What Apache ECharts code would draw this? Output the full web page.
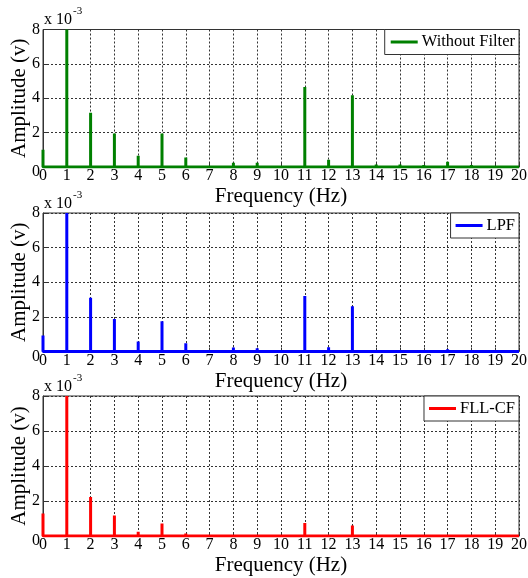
<!DOCTYPE html>
<html><head><meta charset="utf-8">
<script src="https://cdn.jsdelivr.net/npm/echarts@6/dist/echarts.min.js"></script>
<style>html,body{margin:0;padding:0;background:#fff}#c{width:528px;height:578px}</style>
</head><body><div id="c"></div>
<script>
// Frequencies (Hz) and amplitudes (x10^-3 V)
const freqs = [0,1,2,3,4,5,6,7,8,9,10,11,12,13,14,15,16,17,18,19,20];
const ampWithoutFilter = [1.0,8.0,3.15,1.95,0.65,1.95,0.55,0,0.25,0.25,0,4.66,0.42,4.17,0.15,0.15,0.12,0.3,0.12,0,0];
const ampLPF = [0.93,8.0,3.1,1.88,0.58,1.75,0.47,0,0.23,0.19,0,3.2,0.25,2.62,0.05,0.05,0,0.13,0,0,0];
const ampFLLCF = [1.29,8.0,2.23,1.17,0.25,0.71,0.15,0,0,0,0,0.75,0,0.6,0,0,0,0,0,0,0];
const seriesNames = ['Without Filter','LPF','FLL-CF'];
const seriesColors = ['#008000','#0000ff','#ff0000'];
const yTicks = [0,2,4,6,8];

const FONT = "'Liberation Serif','Times New Roman',serif";
const grids = [
  {left:43,right:9,top:29.5,height:137.5},
  {left:43,right:9,top:213,height:138.5},
  {left:43,right:9,top:396,height:140}
];
const legendBoxes = [
  {right:9, top:29.5, padding:[4,4,4,6]},
  {right:9, top:213, padding:[4,4,4,5]},
  {right:9, top:396, padding:[4,4,4,5]}
];
function spikes(amps){
  const d=[];
  freqs.forEach((f,i)=>{ d.push([f,0]); if(amps[i]>0){ d.push([f,amps[i]]); d.push([f,0]); } });
  return d;
}
const allAmps=[ampWithoutFilter,ampLPF,ampFLLCF];
const option={
  animation:false,
  backgroundColor:'#fff',
  grid:grids.map(g=>Object.assign({show:true,borderColor:'#333',borderWidth:1,backgroundColor:'transparent',containLabel:false,outerBoundsMode:'none'},g)),
  xAxis:grids.map((g,i)=>({
    type:'value',gridIndex:i,min:0,max:20,interval:1,
    name:'Frequency (Hz)',nameLocation:'middle',nameGap:19,nameMoveOverlap:false,
    nameTextStyle:{fontFamily:FONT,fontSize:21,color:'#000'},
    axisLine:{show:true,lineStyle:{color:'#333',width:1}},
    axisTick:{show:true,inside:true,length:4,lineStyle:{color:'#333'}},
    axisLabel:{fontFamily:FONT,fontSize:16,color:'#000',margin:1},
    splitLine:{show:true,lineStyle:{color:'#333',type:[2,2],width:1}}
  })),
  yAxis:grids.map((g,i)=>({
    type:'value',gridIndex:i,min:0,max:8,interval:2,
    name:'Amplitude (v)',nameLocation:'middle',nameGap:13,nameMoveOverlap:false,
    nameTextStyle:{fontFamily:FONT,fontSize:21,color:'#000'},
    axisLine:{show:true,lineStyle:{color:'#333',width:1}},
    axisTick:{show:true,inside:true,length:4,lineStyle:{color:'#333'}},
    axisLabel:{fontFamily:FONT,fontSize:16,color:'#000',margin:3,
      formatter:v=>yTicks.includes(v)?(v===0?'{z|0}':String(v)):'',
      rich:{z:{fontFamily:FONT,fontSize:16,color:'#000',padding:[10,0,0,0]}}},
    splitLine:{show:true,lineStyle:{color:'#333',type:[2,2],width:1}}
  })),
  legend:legendBoxes.map((b,i)=>Object.assign({
    data:[seriesNames[i]],orient:'horizontal',
    backgroundColor:'#fff',borderColor:'#333',borderWidth:1,borderRadius:0,
    itemWidth:27,itemHeight:3,itemGap:0,icon:'rect',
    textStyle:{fontFamily:FONT,fontSize:16.5,color:'#000',padding:[0,0,0,-1]},
    selectedMode:false
  },b)),
  graphic:grids.flatMap(g=>[
    {type:'text',x:44,y:g.top-9.5,style:{text:'x 10',fontFamily:FONT,fontSize:16,fill:'#000',textVerticalAlign:'middle'}},
    {type:'text',x:73,y:g.top-18,style:{text:'-3',fontFamily:FONT,fontSize:11,fill:'#000',textVerticalAlign:'middle'}}
  ]),
  series:allAmps.map((a,i)=>({
    name:seriesNames[i],type:'line',xAxisIndex:i,yAxisIndex:i,
    data:spikes(a),showSymbol:false,symbol:'none',clip:true,
    lineStyle:{color:seriesColors[i],width:3},itemStyle:{color:seriesColors[i]}
  }))
};
const chart=echarts.init(document.getElementById('c'),null,{renderer:'canvas'});
chart.setOption(option);
</script></body></html>
